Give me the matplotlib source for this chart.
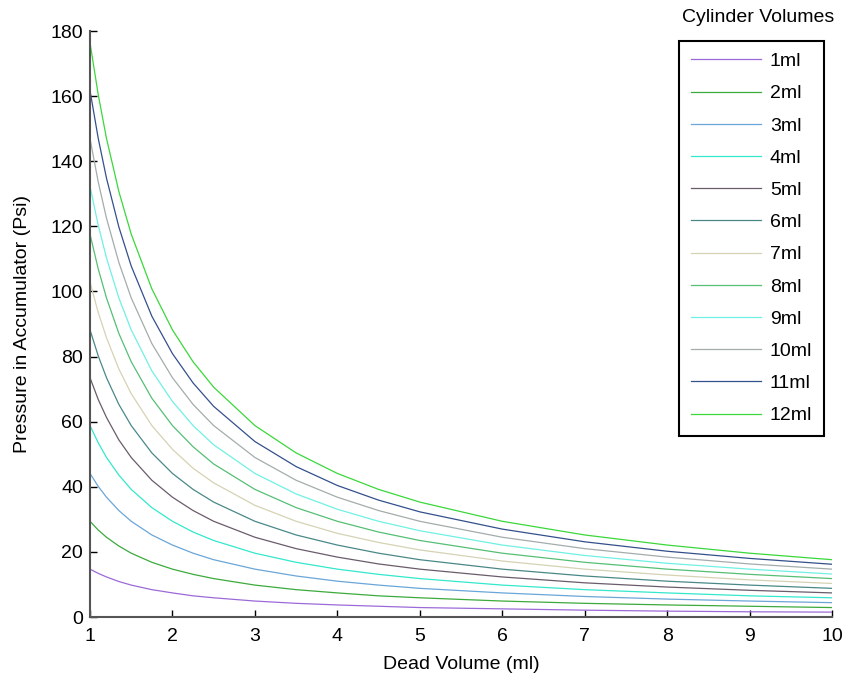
import matplotlib
matplotlib.use("Agg")
import matplotlib.pyplot as plt

plt.rcParams['font.family'] = ['Liberation Sans', 'DejaVu Sans']

# dead volume (ml) sample points
dead_volume = [1, 1.1, 1.2, 1.35, 1.5, 1.75, 2, 2.25, 2.5, 3, 3.5, 4, 4.5, 5, 6, 7, 8, 9, 10]

# pressure (psi), one list per cylinder volume
p_1ml = [14.7, 13.4, 12.3, 10.9, 9.8, 8.4, 7.4, 6.5, 5.9, 4.9, 4.2, 3.7, 3.3, 2.9, 2.5, 2.1, 1.8, 1.6, 1.5]
p_2ml = [29.4, 26.7, 24.5, 21.8, 19.6, 16.8, 14.7, 13.1, 11.8, 9.8, 8.4, 7.4, 6.5, 5.9, 4.9, 4.2, 3.7, 3.3, 2.9]
p_3ml = [44.1, 40.1, 36.8, 32.7, 29.4, 25.2, 22.1, 19.6, 17.6, 14.7, 12.6, 11.0, 9.8, 8.8, 7.4, 6.3, 5.5, 4.9, 4.4]
p_4ml = [58.8, 53.5, 49.0, 43.6, 39.2, 33.6, 29.4, 26.1, 23.5, 19.6, 16.8, 14.7, 13.1, 11.8, 9.8, 8.4, 7.4, 6.5, 5.9]
p_5ml = [73.5, 66.8, 61.3, 54.4, 49.0, 42.0, 36.8, 32.7, 29.4, 24.5, 21.0, 18.4, 16.3, 14.7, 12.3, 10.5, 9.2, 8.2, 7.4]
p_6ml = [88.2, 80.2, 73.5, 65.3, 58.8, 50.4, 44.1, 39.2, 35.3, 29.4, 25.2, 22.1, 19.6, 17.6, 14.7, 12.6, 11.0, 9.8, 8.8]
p_7ml = [102.9, 93.5, 85.8, 76.2, 68.6, 58.8, 51.5, 45.7, 41.2, 34.3, 29.4, 25.7, 22.9, 20.6, 17.2, 14.7, 12.9, 11.4, 10.3]
p_8ml = [117.6, 106.9, 98.0, 87.1, 78.4, 67.2, 58.8, 52.3, 47.0, 39.2, 33.6, 29.4, 26.1, 23.5, 19.6, 16.8, 14.7, 13.1, 11.8]
p_9ml = [132.3, 120.3, 110.3, 98.0, 88.2, 75.6, 66.2, 58.8, 52.9, 44.1, 37.8, 33.1, 29.4, 26.5, 22.1, 18.9, 16.5, 14.7, 13.2]
p_10ml = [147.0, 133.6, 122.5, 108.9, 98.0, 84.0, 73.5, 65.3, 58.8, 49.0, 42.0, 36.8, 32.7, 29.4, 24.5, 21.0, 18.4, 16.3, 14.7]
p_11ml = [161.7, 147.0, 134.8, 119.8, 107.8, 92.4, 80.9, 71.9, 64.7, 53.9, 46.2, 40.4, 35.9, 32.3, 27.0, 23.1, 20.2, 18.0, 16.2]
p_12ml = [176.4, 160.4, 147.0, 130.7, 117.6, 100.8, 88.2, 78.4, 70.6, 58.8, 50.4, 44.1, 39.2, 35.3, 29.4, 25.2, 22.1, 19.6, 17.6]

series = [p_1ml, p_2ml, p_3ml, p_4ml, p_5ml, p_6ml, p_7ml, p_8ml, p_9ml, p_10ml, p_11ml, p_12ml]
labels = ['1ml', '2ml', '3ml', '4ml', '5ml', '6ml', '7ml', '8ml', '9ml', '10ml', '11ml', '12ml']
colors = ['#9c6ad8', '#3caa3c', '#6aa6d8', '#33e8cc', '#6a5c6a', '#4a8888',
          '#d6d2b4', '#55bf75', '#70f0e4', '#a4acac', '#34508c', '#3ad83a']

x_ticks = [1, 2, 3, 4, 5, 6, 7, 8, 9, 10]
y_ticks = [0, 20, 40, 60, 80, 100, 120, 140, 160, 180]

fig = plt.figure(figsize=(8.46, 6.83), dpi=100)
ax = fig.add_axes([90 / 846, 1 - 617 / 683, 742 / 846, 586 / 683])

for vals, lab, col in zip(series, labels, colors):
    ax.plot(dead_volume, vals, color=col, linewidth=0.9, label=lab)

ax.set_xlim(1, 10)
ax.set_ylim(0, 180)
ax.set_xticks(x_ticks)
ax.set_yticks(y_ticks)
ax.tick_params(direction='in', length=5, width=1, labelsize=14, colors='black')
ax.tick_params(axis='x', pad=8)
ax.tick_params(axis='y', pad=5)
for side in ['top', 'right']:
    ax.spines[side].set_visible(False)
for side in ['left', 'bottom']:
    ax.spines[side].set_color('#555555')
    ax.spines[side].set_linewidth(1.5)

ax.set_xlabel('Dead Volume (ml)', fontsize=14, labelpad=8)
ax.set_ylabel('Pressure in Accumulator (Psi)', fontsize=14, labelpad=14)

leg = ax.legend(loc='upper right', bbox_to_anchor=(0.989, 0.983), borderaxespad=0,
                fontsize=14, handlelength=3.6, handletextpad=0.45, labelspacing=0.75,
                borderpad=0.6, fancybox=False, framealpha=1, edgecolor='black')
leg.get_frame().set_linewidth(1.5)

fig.text(758 / 846, 1 - 17 / 683, 'Cylinder Volumes', fontsize=14, ha='center', va='center')

fig.savefig('out.png', dpi=100)
